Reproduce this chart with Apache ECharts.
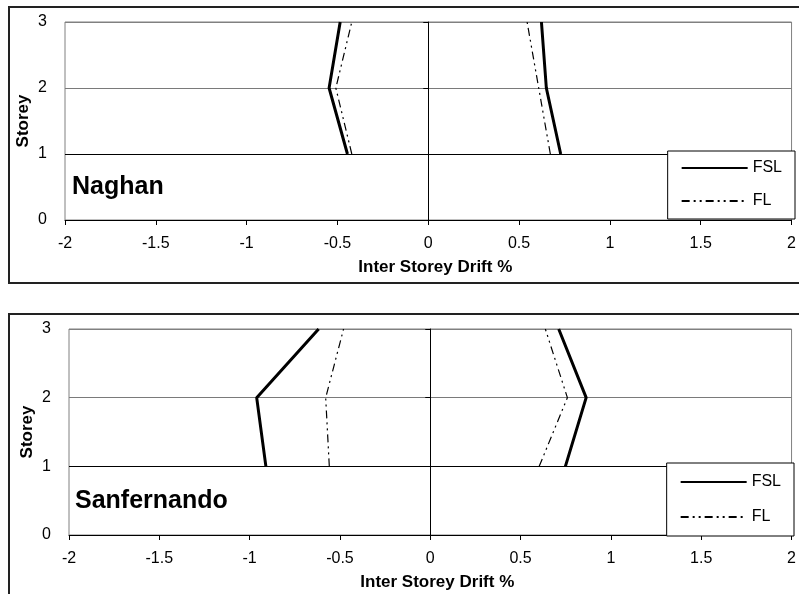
<!DOCTYPE html>
<html>
<head>
<meta charset="utf-8">
<script src="https://cdn.jsdelivr.net/npm/echarts@6/dist/echarts.min.js"></script>
<style>html,body{margin:0;padding:0;background:#fff;}#c{width:799px;height:594px;}</style>
</head>
<body>
<div id="c"></div>
<script>
// Storey levels
const storeys = [1, 2, 3];
// Naghan record (inter storey drift %)
const naghanFslNeg = [-0.445, -0.546, -0.485];
const naghanFlNeg = [-0.421, -0.509, -0.421];
const naghanFslPos = [0.729, 0.650, 0.623];
const naghanFlPos = [0.672, 0.608, 0.544];
// Sanfernando record
const sanFslNeg = [-0.910, -0.961, -0.618];
const sanFlNeg = [-0.559, -0.579, -0.480];
const sanFslPos = [0.748, 0.863, 0.711];
const sanFlPos = [0.603, 0.759, 0.637];
// Axis ticks
const xTicks = [-2, -1.5, -1, -0.5, 0, 0.5, 1, 1.5, 2];
const yTicks = [0, 1, 2, 3];
const panelNames = ['Naghan', 'Sanfernando'];
const seriesNames = ['FSL', 'FL'];

const FONT = '"Liberation Sans", Arial, sans-serif';
const pair = (xs) => xs.map((x, i) => [x, storeys[i]]);

const grids = [
  { left: 65, right: 4, top: 22, height: 198 },
  { left: 69, right: 5, top: 329, height: 206 }
];

const fslStyle = { color: '#000', width: 3, type: 'solid' };
const flStyle = { color: '#000', width: 1.2, type: [8, 4, 2, 4, 2, 4] };

function lineSeries(name, values, gi, style) {
  return {
    name: name, type: 'line', xAxisIndex: gi, yAxisIndex: gi * 2,
    data: pair(values), symbol: 'none', showSymbol: false,
    lineStyle: style, itemStyle: { color: '#000' }, animation: false, z: 5
  };
}

const xAxes = grids.map((g, i) => ({
  type: 'value', gridIndex: i, min: xTicks[0], max: xTicks[xTicks.length - 1], interval: 0.5,
  axisLine: { show: true, onZero: false, lineStyle: { color: '#000', width: 1 } },
  axisTick: { show: true, length: 5, lineStyle: { color: '#000' } },
  axisLabel: { show: true, color: '#000', fontFamily: FONT, fontSize: 16, margin: 16, showMinLabel: true, showMaxLabel: true },
  splitLine: { show: false },
  name: 'Inter Storey Drift %', nameLocation: 'middle', nameGap: 39,
  nameTextStyle: { color: '#000', fontFamily: FONT, fontSize: 17, fontWeight: 'bold', padding: [0, 0, 0, 14] }
}));

const yAxes = [];
grids.forEach((g, i) => {
  yAxes.push({
    type: 'value', gridIndex: i, min: yTicks[0], max: yTicks[yTicks.length - 1], interval: 1,
    position: 'left',
    axisLine: { show: false },
    axisTick: { show: false },
    axisLabel: { color: '#000', fontFamily: FONT, fontSize: 16, margin: 18 },
    splitLine: { show: true, lineStyle: { color: ['#000', '#000', '#7a7a7a', '#808080'], width: 1 } },
    name: 'Storey', nameLocation: 'middle', nameRotate: 90, nameGap: 33, nameMoveOverlap: false,
    nameTextStyle: { color: '#000', fontFamily: FONT, fontSize: 17, fontWeight: 'bold' }
  });
  yAxes.push({
    type: 'value', gridIndex: i, min: yTicks[0], max: yTicks[yTicks.length - 1], interval: 1,
    position: 'left',
    axisLine: { show: true, onZero: true, onZeroAxisIndex: i, lineStyle: { color: '#000', width: 1 } },
    axisTick: { show: true, length: 5, lineStyle: { color: '#000' } },
    axisLabel: { show: false },
    splitLine: { show: false }
  });
});

const series = [
  lineSeries(seriesNames[0], naghanFslNeg, 0, fslStyle),
  lineSeries(seriesNames[0], naghanFslPos, 0, fslStyle),
  lineSeries(seriesNames[1], naghanFlNeg, 0, flStyle),
  lineSeries(seriesNames[1], naghanFlPos, 0, flStyle),
  lineSeries(seriesNames[0], sanFslNeg, 1, fslStyle),
  lineSeries(seriesNames[0], sanFslPos, 1, fslStyle),
  lineSeries(seriesNames[1], sanFlNeg, 1, flStyle),
  lineSeries(seriesNames[1], sanFlPos, 1, flStyle)
];

const legendBase = {
  data: seriesNames, orient: 'vertical', itemWidth: 66, itemHeight: 14,
  backgroundColor: '#fff', borderColor: '#000', borderWidth: 1, borderRadius: 0,
  textStyle: { color: '#000', fontFamily: FONT, fontSize: 16, lineHeight: 16 },
  itemStyle: { opacity: 0 },
  selectedMode: false, z: 10
};

const option = {
  animation: false,
  backgroundColor: '#fff',
  grid: grids.map(g => Object.assign({ show: true, borderColor: '#808080', borderWidth: 1, backgroundColor: 'transparent' }, g)),
  xAxis: xAxes,
  yAxis: yAxes,
  series: series,
  legend: [
    Object.assign({}, legendBase, { right: 4, top: 151, padding: [9, 13, 10, 13], itemGap: 17 }),
    Object.assign({}, legendBase, { right: 5, top: 463, padding: [11, 13, 11, 13], itemGap: 19 })
  ],
  title: [
    { text: panelNames[0], left: 72, top: 175, padding: 0, textStyle: { color: '#000', fontFamily: FONT, fontSize: 25, fontWeight: 'bold' } },
    { text: panelNames[1], left: 75, top: 489, padding: 0, textStyle: { color: '#000', fontFamily: FONT, fontSize: 25, fontWeight: 'bold' } }
  ],
  graphic: [
    { type: 'rect', shape: { x: 9, y: 7, width: 800, height: 276 }, style: { fill: 'none', stroke: '#222', lineWidth: 2 }, silent: true, z: 100 },
    { type: 'rect', shape: { x: 9, y: 314, width: 800, height: 300 }, style: { fill: 'none', stroke: '#222', lineWidth: 2 }, silent: true, z: 100 }
  ]
};

const chart = echarts.init(document.getElementById('c'), null, { renderer: 'canvas' });
chart.setOption(option);
</script>
</body>
</html>
